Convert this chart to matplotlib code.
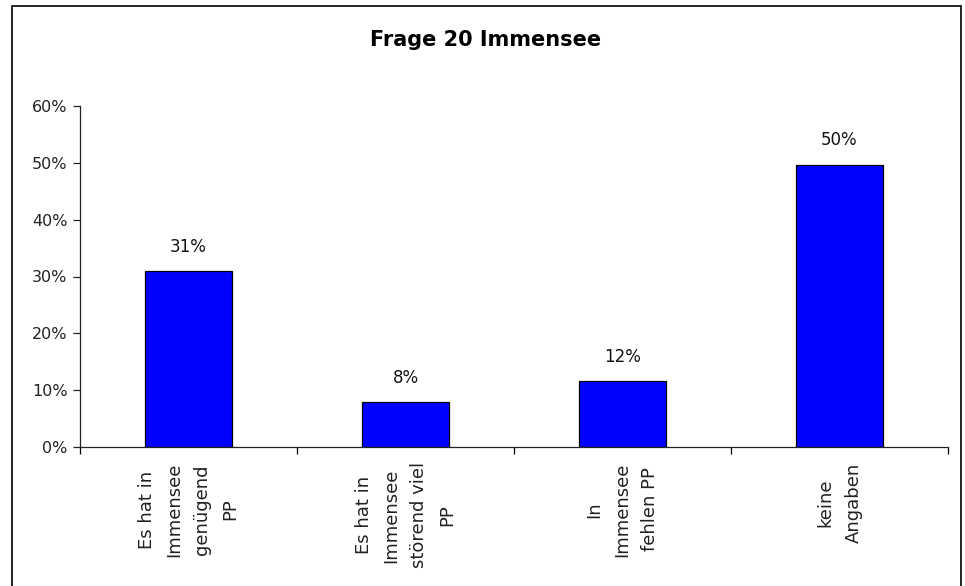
import matplotlib
matplotlib.use("Agg")
import matplotlib.pyplot as plt
from matplotlib.patches import Rectangle
from matplotlib.ticker import PercentFormatter, FixedLocator

title = "Frage 20 Immensee"
categories = [
    "Es hat in\nImmensee\ngenügend\nPP",
    "Es hat in\nImmensee\nstörend viel\nPP",
    "In\nImmensee\nfehlen PP",
    "keine\nAngaben",
]
values = [0.31, 0.079, 0.116, 0.497]
value_labels = ["31%", "8%", "12%", "50%"]
yticks = [0.0, 0.1, 0.2, 0.3, 0.4, 0.5, 0.6]

plt.rcParams['font.family'] = ['DejaVu Sans']

fig = plt.figure(figsize=(9.65, 5.86), dpi=100)
ax = fig.add_axes([80 / 965, 139 / 586, 868 / 965, 341 / 586])

x = list(range(len(categories)))
bars = ax.bar(x, values, width=0.405, color="#0000FF", edgecolor="black", linewidth=0.9, zorder=2)

for xi, v, lab in zip(x, values, value_labels):
    ax.annotate(lab, (xi, v), xytext=(0, 11), textcoords="offset points",
                ha="center", va="bottom", fontsize=12, color="#111111")

ax.set_xlim(-0.5, len(categories) - 0.5)
ax.set_ylim(0, 0.6)
ax.set_yticks(yticks)
ax.yaxis.set_major_formatter(PercentFormatter(1.0, decimals=0))
ax.tick_params(axis="y", direction="out", length=5, width=0.9, labelsize=11.5, pad=4, colors="#222222")

ax.xaxis.set_major_locator(FixedLocator([i - 0.5 for i in range(len(categories) + 1)]))
ax.xaxis.set_major_formatter(plt.NullFormatter())
ax.xaxis.set_minor_locator(FixedLocator(x))
ax.set_xticklabels(categories, minor=True, rotation=90, fontsize=13,
                   ha="center", va="top", multialignment="center", linespacing=1.7)
ax.tick_params(axis="x", which="major", direction="out", length=5, width=0.9)
ax.tick_params(axis="x", which="minor", length=0, pad=11, colors="#222222")

for s in ["top", "right"]:
    ax.spines[s].set_visible(False)
for s in ["left", "bottom"]:
    ax.spines[s].set_linewidth(0.9)
    ax.spines[s].set_color("#222222")

fig.text(486 / 965, 1 - 40 / 586, title, ha="center", va="center",
         fontsize=15, fontweight="bold", color="black")

border = Rectangle((11.5 / 965, -0.05), (961 - 11.5) / 965, (580 / 586) + 0.05,
                   transform=fig.transFigure, fill=False, edgecolor="black",
                   linewidth=1.2, clip_on=False)
fig.patches.append(border)

fig.savefig("out.png", dpi=100)
